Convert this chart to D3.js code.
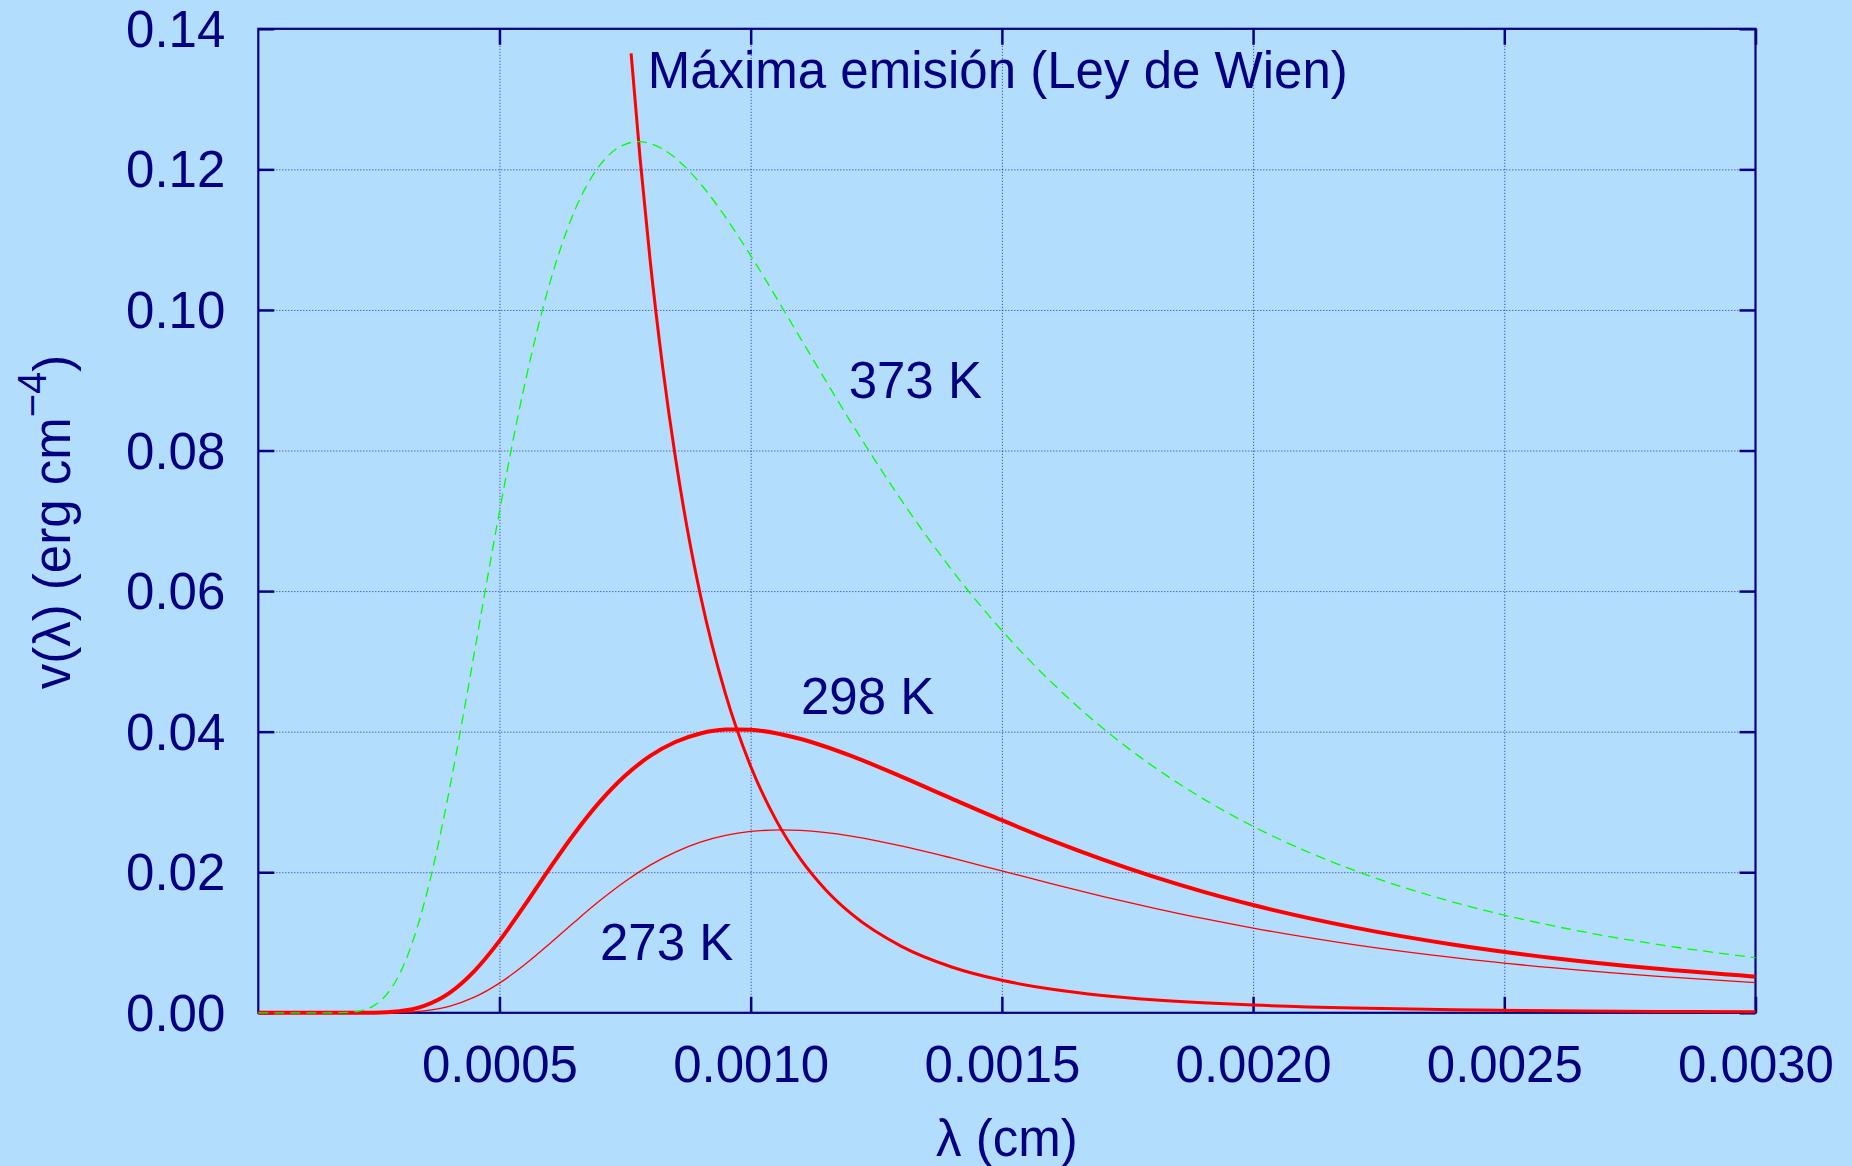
<!DOCTYPE html>
<html>
<head>
<meta charset="utf-8">
<script src="https://cdn.jsdelivr.net/npm/d3@7"></script>
<style>
body{margin:0;background:#b3ddfd}
svg{display:block}
text{font-family:"Liberation Sans",Arial,Helvetica,sans-serif;fill:#000080}
</style>
</head>
<body>
<svg id="chart" width="1852" height="1166"></svg>
<script>
// axis ranges and ticks
var xRange = [0.00002, 0.003];
var yRange = [0, 0.14];
var xTicks = [0.0005, 0.0010, 0.0015, 0.0020, 0.0025, 0.0030];
var yTicks = [0.00, 0.02, 0.04, 0.06, 0.08, 0.10, 0.12, 0.14];
var xGrid = [0.0005, 0.0010, 0.0015, 0.0020, 0.0025];
var yGrid = [0.02, 0.04, 0.06, 0.08, 0.10, 0.12];

// 273 K (thin red)
var lam273 = [0.00002, 0.0002, 0.00025, 0.0003, 0.00035, 0.0004, 0.00045, 0.0005, 0.00055, 0.0006, 0.00065, 0.0007, 0.00075, 0.0008, 0.00085, 0.0009, 0.00095, 0.001, 0.0010615, 0.0011, 0.0012, 0.0013, 0.0014, 0.0015, 0.0016, 0.0017, 0.0018, 0.0019, 0.002, 0.0022, 0.0024, 0.0026, 0.0028, 0.003];
var v273 = [0, 0, 0, 0.00005, 0.00027, 0.00092, 0.00222, 0.00422, 0.00684, 0.00984, 0.01296, 0.01597, 0.01869, 0.02101, 0.02287, 0.02428, 0.02524, 0.02580, 0.02603, 0.02595, 0.02515, 0.02374, 0.02203, 0.02019, 0.01835, 0.01658, 0.01494, 0.01342, 0.01205, 0.00971, 0.00785, 0.00638, 0.00521, 0.00429];

// 298 K (thick red)
var lam298 = [0.00002, 0.0002, 0.00025, 0.0003, 0.00035, 0.0004, 0.00045, 0.0005, 0.00055, 0.0006, 0.00065, 0.0007, 0.00075, 0.0008, 0.00085, 0.0009, 0.00095, 0.000972, 0.001, 0.0011, 0.0012, 0.0013, 0.0014, 0.0015, 0.0016, 0.0017, 0.0018, 0.0019, 0.002, 0.0022, 0.0024, 0.0026, 0.0028, 0.003];
var v298 = [0, 0, 0.00002, 0.00021, 0.00097, 0.00279, 0.00593, 0.01023, 0.01528, 0.02056, 0.02559, 0.03004, 0.03372, 0.03655, 0.03853, 0.03974, 0.04029, 0.04032, 0.04027, 0.03895, 0.03655, 0.03360, 0.03048, 0.02740, 0.02449, 0.02182, 0.01940, 0.01724, 0.01533, 0.01215, 0.00968, 0.00777, 0.00629, 0.00514];

// 373 K (green dashed)
var lam373 = [0.00002, 0.00015, 0.0002, 0.000225, 0.00025, 0.000275, 0.0003, 0.000325, 0.00035, 0.000375, 0.0004, 0.000425, 0.00045, 0.000475, 0.0005, 0.00055, 0.0006, 0.00065, 0.0007, 0.00075, 0.000777, 0.0008, 0.00085, 0.0009, 0.00095, 0.001, 0.0011, 0.0012, 0.0013, 0.0014, 0.0015, 0.0016, 0.0017, 0.0018, 0.0019, 0.002, 0.0022, 0.0024, 0.0026, 0.0028, 0.003];
var v373 = [0, 0, 0.00007, 0.00031, 0.00102, 0.00257, 0.00535, 0.00965, 0.01555, 0.02295, 0.03162, 0.04117, 0.05123, 0.06140, 0.07131, 0.08933, 0.10379, 0.11418, 0.12060, 0.12357, 0.12394, 0.12368, 0.12163, 0.11796, 0.11320, 0.10773, 0.09586, 0.08398, 0.07293, 0.06304, 0.05439, 0.04694, 0.04055, 0.03511, 0.03048, 0.02653, 0.02029, 0.01572, 0.01233, 0.00978, 0.00785];

// maximum emission (Wien)
var lamWien = [0.000762, 0.00078, 0.0008, 0.000825, 0.00085, 0.000875, 0.0009, 0.00095, 0.001, 0.00105, 0.0011, 0.00115, 0.0012, 0.0013, 0.0014, 0.0015, 0.0016, 0.0017, 0.0018, 0.0019, 0.002, 0.0022, 0.0024, 0.0026, 0.0028, 0.003];
var vWien = [0.1365, 0.1215, 0.1070, 0.0918, 0.0791, 0.0684, 0.0594, 0.04533, 0.03508, 0.02748, 0.02178, 0.01744, 0.01410, 0.00945, 0.00652, 0.00462, 0.00335, 0.00247, 0.00186, 0.00142, 0.00110, 0.00068, 0.00044, 0.00030, 0.00020, 0.00014];

// curve labels
var labelTexts = ["Máxima emisión (Ley de Wien)", "373 K", "298 K", "273 K"];
var labelLam = [0.000795, 0.001195, 0.0011, 0.0007];
var labelVal = [0.134, 0.09, 0.045, 0.01];

var W = 1852, H = 1166;
var navy = "#000080";
var fontSize = 51;

var svg = d3.select("#chart");
svg.append("rect").attr("width", W).attr("height", H).attr("fill", "#b3ddfd");

var x = d3.scaleLinear().domain(xRange).range([258.3, 1755.5]);
var y = d3.scaleLinear().domain(yRange).range([1012.8, 28.8]);
var plotW = x(xRange[1]) - x(xRange[0]);
var plotH = y(yRange[0]) - y(yRange[1]);

// dotted grid
var gridStyle = function(g){
	g.select(".domain").remove();
	g.selectAll("line")
		.attr("stroke", navy)
		.attr("stroke-opacity", 0.8)
		.attr("stroke-width", 1)
		.attr("stroke-dasharray", "1,2");
};
svg.append("g")
	.attr("transform", "translate(0," + y(0) + ")")
	.call(d3.axisBottom(x).tickValues(xGrid).tickSize(-plotH).tickFormat(""))
	.call(gridStyle);
svg.append("g")
	.attr("transform", "translate(" + x(xRange[0]) + ",0)")
	.call(d3.axisLeft(y).tickValues(yGrid).tickSize(-plotW).tickFormat(""))
	.call(gridStyle);

// border
svg.append("rect")
	.attr("x", x(xRange[0])).attr("y", y(yRange[1]))
	.attr("width", plotW).attr("height", plotH)
	.attr("fill", "none").attr("stroke", navy).attr("stroke-width", 2.2);

// ticks on all four sides, pointing inwards
var tickStyle = function(g){
	g.attr("font-family", null).attr("font-size", null);
	g.select(".domain").remove();
	g.selectAll("line").attr("stroke", navy).attr("stroke-width", 2.5);
	g.selectAll("text").attr("fill", navy).style("font-size", fontSize + "px");
};
var bottomAxis = svg.append("g")
	.attr("transform", "translate(0," + y(0) + ")")
	.call(d3.axisBottom(x).tickValues(xTicks).tickSize(-16).tickFormat(d3.format(".4f")))
	.call(tickStyle);
bottomAxis.selectAll("text").attr("y", 69).attr("dy", null);

svg.append("g")
	.attr("transform", "translate(0," + y(yRange[1]) + ")")
	.call(d3.axisTop(x).tickValues(xTicks).tickSize(-16).tickFormat(""))
	.call(tickStyle);

var leftAxis = svg.append("g")
	.attr("transform", "translate(" + x(xRange[0]) + ",0)")
	.call(d3.axisLeft(y).tickValues(yTicks).tickSize(-16).tickPadding(33).tickFormat(d3.format(".2f")))
	.call(tickStyle);
leftAxis.selectAll("text").attr("dy", 17.5);

svg.append("g")
	.attr("transform", "translate(" + x(xRange[1]) + ",0)")
	.call(d3.axisRight(y).tickValues(yTicks).tickSize(-16).tickFormat(""))
	.call(tickStyle);

// curves
var line = d3.line()
	.x(function(d){ return x(d[0]); })
	.y(function(d){ return y(d[1]); })
	.curve(d3.curveMonotoneX);

var zipped = function(a, b){ return a.map(function(v, i){ return [v, b[i]]; }); };

var series = [
	{data: zipped(lam273, v273), color: "#ff0000", width: 1.3, dash: null},
	{data: zipped(lam298, v298), color: "#ff0000", width: 4, dash: null},
	{data: zipped(lamWien, vWien), color: "#ff0000", width: 3, dash: null},
	{data: zipped(lam373, v373), color: "#00ff00", width: 1.3, dash: "10,6"}
];
svg.append("g").selectAll("path")
	.data(series)
	.enter().append("path")
	.attr("d", function(s){ return line(s.data); })
	.attr("fill", "none")
	.attr("stroke", function(s){ return s.color; })
	.attr("stroke-width", function(s){ return s.width; })
	.attr("stroke-dasharray", function(s){ return s.dash; })
	.attr("stroke-linejoin", "round");

// labels on the curves
svg.append("g").selectAll("text")
	.data(labelTexts)
	.enter().append("text")
	.attr("x", function(d, i){ return x(labelLam[i]); })
	.attr("y", function(d, i){ return y(labelVal[i]) + 17.5; })
	.style("font-size", fontSize + "px")
	.text(function(d){ return d; });

// axis titles
svg.append("text")
	.attr("x", (x(xRange[0]) + x(xRange[1])) / 2)
	.attr("y", 1156)
	.attr("text-anchor", "middle")
	.style("font-size", fontSize + "px")
	.text("λ (cm)");

var yTitle = svg.append("text")
	.attr("transform", "translate(69.5," + 522 + ") rotate(-90)")
	.attr("text-anchor", "middle")
	.style("font-size", fontSize + "px");
yTitle.append("tspan").text("v(λ) (erg cm");
yTitle.append("tspan").attr("dy", -24).style("font-size", "40px").text("−4");
yTitle.append("tspan").attr("dy", 24).text(")");
</script>
</body>
</html>
